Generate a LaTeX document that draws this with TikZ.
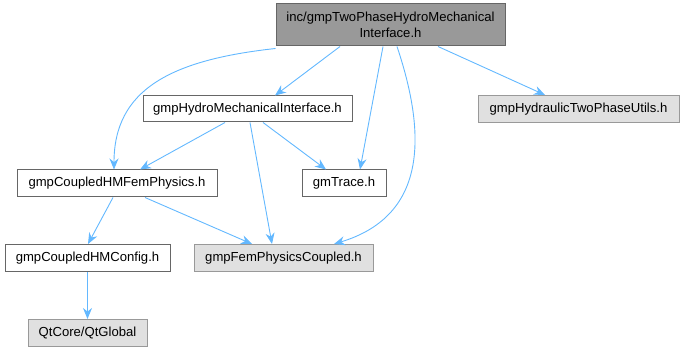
\documentclass[tikz,border=0pt]{standalone}
\usepackage{fontspec}
\setmainfont{Liberation Sans}
\usetikzlibrary{arrows.meta}
\definecolor{edgec}{HTML}{63B8FF}
\definecolor{boxw}{HTML}{666666}
\definecolor{boxg}{HTML}{999999}
\definecolor{fillg}{HTML}{E0E0E0}
\definecolor{filltop}{HTML}{999999}
\tikzset{
  hbox/.style={draw=boxw, fill=white, line width=1pt, inner sep=0pt, font=\fontsize{13.1}{14}\selectfont, align=center},
  sysbox/.style={draw=boxg, fill=fillg, line width=1pt, inner sep=0pt, font=\fontsize{13.1}{14}\selectfont, align=center},
  topbox/.style={draw=boxw, fill=filltop, line width=1pt, inner sep=0pt, font=\fontsize{13.1}{15.5}\selectfont, align=center},
  dep/.style={draw=edgec, line width=0.9pt, -{Stealth[length=11pt,width=9pt]}},
}
\begin{document}
\begin{tikzpicture}[x=1pt,y=-1pt]
\useasboundingbox (0,0) rectangle (684,352);
\node[topbox, minimum width=229pt, minimum height=42pt] (top) at (390.5,25) {inc/gmpTwoPhaseHydroMechanical\\Interface.h};
\node[hbox, minimum width=209pt, minimum height=26pt] (hmi) at (247.5,109) {gmpHydroMechanicalInterface.h};
\node[sysbox, minimum width=201pt, minimum height=27pt] (htp) at (578.5,109) {gmpHydraulicTwoPhaseUtils.h};
\node[hbox, minimum width=200pt, minimum height=27pt] (chm) at (117,183.5) {gmpCoupledHMFemPhysics.h};
\node[hbox, minimum width=84pt, minimum height=27pt] (trace) at (344,183.5) {gmTrace.h};
\node[hbox, minimum width=165pt, minimum height=27pt] (cfg) at (87.5,258) {gmpCoupledHMConfig.h};
\node[sysbox, minimum width=179pt, minimum height=27pt] (fpc) at (283.5,258) {gmpFemPhysicsCoupled.h};
\node[sysbox, minimum width=119pt, minimum height=27pt] (qt) at (87.5,333) {QtCore/QtGlobal};

\draw[dep] (top.south -| 340,0) -- (hmi.north -| 275,0);
\draw[dep] ([yshift=-2pt]top.south west) .. controls (170,60) and (114,90) .. (chm.north -| 114,0);
\draw[dep] (top.south -| 383,0) -- (trace.north -| 360,0);
\draw[dep] (top.south -| 397,0) .. controls (425,130) and (430,215) .. (fpc.north -| 334,0);
\draw[dep] (top.south -| 438,0) -- (htp.north -| 545,0);
\draw[dep] (hmi.south -| 225,0) -- (chm.north -| 140,0);
\draw[dep] (hmi.south -| 263,0) -- (trace.north -| 326,0);
\draw[dep] (hmi.south -| 250,0) -- (fpc.north -| 272,0);
\draw[dep] (chm.south -| 113,0) -- (cfg.north -| 88,0);
\draw[dep] (chm.south -| 145,0) -- (fpc.north -| 252,0);
\draw[dep] (cfg) -- (qt);
\end{tikzpicture}
\end{document}
